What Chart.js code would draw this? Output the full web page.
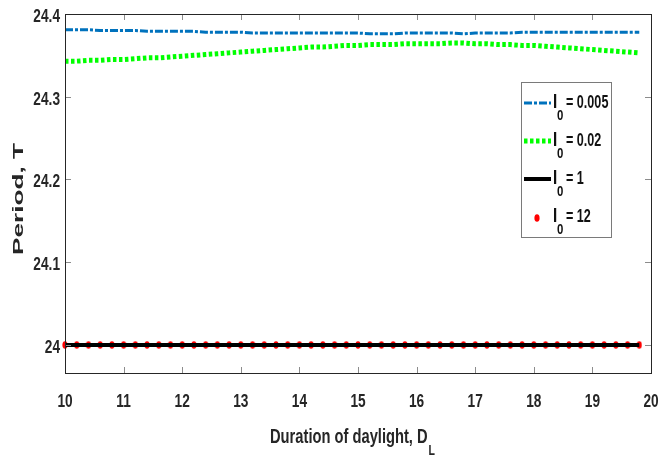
<!DOCTYPE html>
<html>
<head>
<meta charset="utf-8">
<script src="https://cdn.jsdelivr.net/npm/chart.js@4/dist/chart.umd.min.js"></script>
<style>
  html, body { margin: 0; padding: 0; background: #fff; }
  #wrap { width: 660px; height: 461px; position: relative; }
</style>
</head>
<body>
<div id="wrap"><canvas id="c" width="660" height="461"></canvas></div>
<script>
// Duration of daylight D_L (hours)
const dayLength = [10.0, 10.2, 10.4, 10.6, 10.8, 11.0, 11.2, 11.4, 11.6, 11.8,
                   12.0, 12.2, 12.4, 12.6, 12.8, 13.0, 13.2, 13.4, 13.6, 13.8,
                   14.0, 14.2, 14.4, 14.6, 14.8, 15.0, 15.2, 15.4, 15.6, 15.8,
                   16.0, 16.2, 16.4, 16.6, 16.8, 17.0, 17.2, 17.4, 17.6, 17.8,
                   18.0, 18.2, 18.4, 18.6, 18.8, 19.0, 19.2, 19.4, 19.6, 19.8];

// Period T for each light intensity I0
const periodI0005 = [24.381, 24.381, 24.381, 24.380, 24.380, 24.380, 24.380, 24.379, 24.379, 24.379,
                     24.379, 24.379, 24.378, 24.378, 24.378, 24.378, 24.377, 24.377, 24.377, 24.377,
                     24.377, 24.377, 24.377, 24.377, 24.377, 24.377, 24.376, 24.376, 24.376, 24.377,
                     24.377, 24.377, 24.377, 24.377, 24.376, 24.377, 24.377, 24.377, 24.377, 24.378,
                     24.378, 24.378, 24.378, 24.378, 24.378, 24.378, 24.378, 24.378, 24.378, 24.378];
const periodI002 = [24.343, 24.343, 24.344, 24.344, 24.345, 24.345, 24.346, 24.347, 24.347, 24.348,
                    24.349, 24.350, 24.351, 24.352, 24.353, 24.354, 24.355, 24.356, 24.357, 24.358,
                    24.359, 24.360, 24.360, 24.361, 24.362, 24.362, 24.363, 24.363, 24.363, 24.364,
                    24.364, 24.364, 24.364, 24.365, 24.365, 24.364, 24.364, 24.363, 24.363, 24.362,
                    24.362, 24.361, 24.360, 24.359, 24.358, 24.357, 24.356, 24.355, 24.354, 24.353];
const periodI1 = [24, 24, 24, 24, 24, 24, 24, 24, 24, 24,
                  24, 24, 24, 24, 24, 24, 24, 24, 24, 24,
                  24, 24, 24, 24, 24, 24, 24, 24, 24, 24,
                  24, 24, 24, 24, 24, 24, 24, 24, 24, 24,
                  24, 24, 24, 24, 24, 24, 24, 24, 24, 24];
const periodI12 = [24, 24, 24, 24, 24, 24, 24, 24, 24, 24,
                   24, 24, 24, 24, 24, 24, 24, 24, 24, 24,
                   24, 24, 24, 24, 24, 24, 24, 24, 24, 24,
                   24, 24, 24, 24, 24, 24, 24, 24, 24, 24,
                   24, 24, 24, 24, 24, 24, 24, 24, 24, 24];

// Tick labels
const xTicks = [10, 11, 12, 13, 14, 15, 16, 17, 18, 19, 20];
const yTicks = [24, 24.1, 24.2, 24.3, 24.4];

// Legend entries: value after "I0 = "
const legendValues = ['0.005', '0.02', '1', '12'];

const SANS = '"Liberation Sans", Arial, sans-serif';
const NARROW_X = 0.76;   // horizontal squeeze to mimic Helvetica Narrow

function pts(ys) {
  return dayLength.map((x, i) => ({ x, y: ys[i] }));
}

// Tall red marker, like MATLAB's '.' marker in the source figure
const redDot = document.createElement('canvas');
redDot.width = 6; redDot.height = 8;
(function () {
  const g = redDot.getContext('2d');
  g.fillStyle = '#ff0000';
  g.beginPath();
  g.ellipse(3, 4, 2.6, 3.8, 0, 0, Math.PI * 2);
  g.fill();
})();

// Draws text squeezed horizontally; align is 'left' | 'center' | 'right'
function narrowText(ctx, text, x, y, font, align, sx) {
  ctx.save();
  ctx.font = font;
  const w = ctx.measureText(text).width * sx;
  let x0 = x;
  if (align === 'center') x0 = x - w / 2;
  else if (align === 'right') x0 = x - w;
  ctx.translate(x0, y);
  ctx.scale(sx, 1);
  ctx.textAlign = 'left';
  ctx.fillText(text, 0, 0);
  ctx.restore();
  return x0 + w;
}

// Draws the box, inward ticks, tick labels, axis titles and the legend
const decorPlugin = {
  id: 'decor',
  afterDraw(chart) {
    const ctx = chart.ctx;
    const a = chart.chartArea;
    const xs = chart.scales.x, ys = chart.scales.y;
    ctx.save();

    // inward ticks
    ctx.strokeStyle = '#8c8c8c';
    ctx.lineWidth = 1;
    ctx.beginPath();
    xTicks.forEach(v => {
      const px = Math.round(xs.getPixelForValue(v)) + 0.5;
      ctx.moveTo(px, a.bottom); ctx.lineTo(px, a.bottom - 6);
      ctx.moveTo(px, a.top); ctx.lineTo(px, a.top + 6);
    });
    yTicks.forEach(v => {
      const py = Math.round(ys.getPixelForValue(v)) + 0.5;
      ctx.moveTo(a.left, py); ctx.lineTo(a.left + 6, py);
      ctx.moveTo(a.right, py); ctx.lineTo(a.right - 6, py);
    });
    ctx.stroke();

    // frame
    ctx.strokeStyle = '#262626';
    ctx.strokeRect(Math.round(a.left) + 0.5, Math.round(a.top) + 0.5,
                   Math.round(a.right - a.left), Math.round(a.bottom - a.top));

    // tick labels
    ctx.fillStyle = '#262626';
    ctx.textBaseline = 'alphabetic';
    const tickFont = 'bold 18px ' + SANS;
    xTicks.forEach(v => {
      narrowText(ctx, String(v), xs.getPixelForValue(v), 407, tickFont, 'center', NARROW_X);
    });
    yTicks.forEach(v => {
      narrowText(ctx, String(v), 60, ys.getPixelForValue(v) + 8, tickFont, 'right', NARROW_X);
    });

    // x title with subscript L
    const end = narrowText(ctx, 'Duration of daylight, D', 270, 443,
                           'bold 21px ' + SANS, 'left', 0.7);
    narrowText(ctx, 'L', end + 1, 455, 'bold 15px ' + SANS, 'left', 0.7);

    // y title, stretched along its length
    ctx.save();
    ctx.translate(23, 199);
    ctx.rotate(-Math.PI / 2);
    ctx.font = 'bold 15px ' + SANS;
    const tw = ctx.measureText('Period, T').width;
    ctx.scale(112 / tw, 1);
    ctx.textAlign = 'center';
    ctx.fillText('Period, T', 0, 0);
    ctx.restore();

    // legend
    const lx = 521, ly = 82, lw = 90, lh = 155;
    ctx.fillStyle = '#fff';
    ctx.fillRect(lx, ly, lw, lh);
    ctx.strokeStyle = '#7a7a7a';
    ctx.lineWidth = 1;
    ctx.strokeRect(lx + 0.5, ly + 0.5, lw, lh);
    const rowY = [103, 141, 179, 217];
    const ds = chart.data.datasets;
    rowY.forEach((yy, i) => {
      const d = ds[i];
      if (i < 3) {
        ctx.strokeStyle = d.borderColor;
        ctx.lineWidth = d.borderWidth;
        ctx.setLineDash(d.borderDash || []);
        ctx.beginPath();
        ctx.moveTo(524, yy); ctx.lineTo(551, yy);
        ctx.stroke();
        ctx.setLineDash([]);
      } else {
        ctx.drawImage(redDot, 534, yy - 3);
      }
      ctx.fillStyle = '#111';
      narrowText(ctx, 'I', 553, yy + 5, 'bold 20px ' + SANS, 'left', NARROW_X);
      narrowText(ctx, '0', 557, yy + 17, 'bold 15px ' + SANS, 'left', NARROW_X);
      narrowText(ctx, '= ' + legendValues[i], 566, yy + 5, 'bold 18px ' + SANS, 'left', 0.7);
    });
    ctx.restore();
  }
};

new Chart(document.getElementById('c'), {
  type: 'line',
  data: {
    datasets: [
      {
        label: 'I0 = 0.005', data: pts(periodI0005),
        borderColor: '#0072bd', borderWidth: 3, borderDash: [8, 2, 3, 2],
        pointRadius: 0, fill: false, tension: 0
      },
      {
        label: 'I0 = 0.02', data: pts(periodI002),
        borderColor: '#00ff00', borderWidth: 5, borderDash: [3.5, 2.5],
        pointRadius: 0, fill: false, tension: 0
      },
      {
        label: 'I0 = 1', data: pts(periodI1),
        borderColor: '#000000', borderWidth: 4,
        pointRadius: 0, fill: false, tension: 0
      },
      {
        label: 'I0 = 12', data: pts(periodI12),
        showLine: false, borderColor: '#ff0000',
        pointBackgroundColor: '#ff0000',
        pointStyle: redDot, pointRadius: 4, clip: false
      }
    ]
  },
  options: {
    responsive: false,
    animation: false,
    events: [],
    layout: { padding: { top: 14, right: 9, left: 0, bottom: 0 } },
    plugins: { legend: { display: false }, tooltip: { enabled: false } },
    scales: {
      x: {
        type: 'linear', min: 10, max: 20,
        afterBuildTicks: s => { s.ticks = xTicks.map(v => ({ value: v })); },
        afterFit: s => { s.height = 88; },
        grid: { display: false },
        border: { display: false },
        ticks: { display: false }
      },
      y: {
        min: 23.966, max: 24.4,
        afterBuildTicks: s => { s.ticks = yTicks.map(v => ({ value: v })); },
        afterFit: s => { s.width = 65; },
        grid: { display: false },
        border: { display: false },
        ticks: { display: false }
      }
    }
  },
  plugins: [decorPlugin]
});
</script>
</body>
</html>
